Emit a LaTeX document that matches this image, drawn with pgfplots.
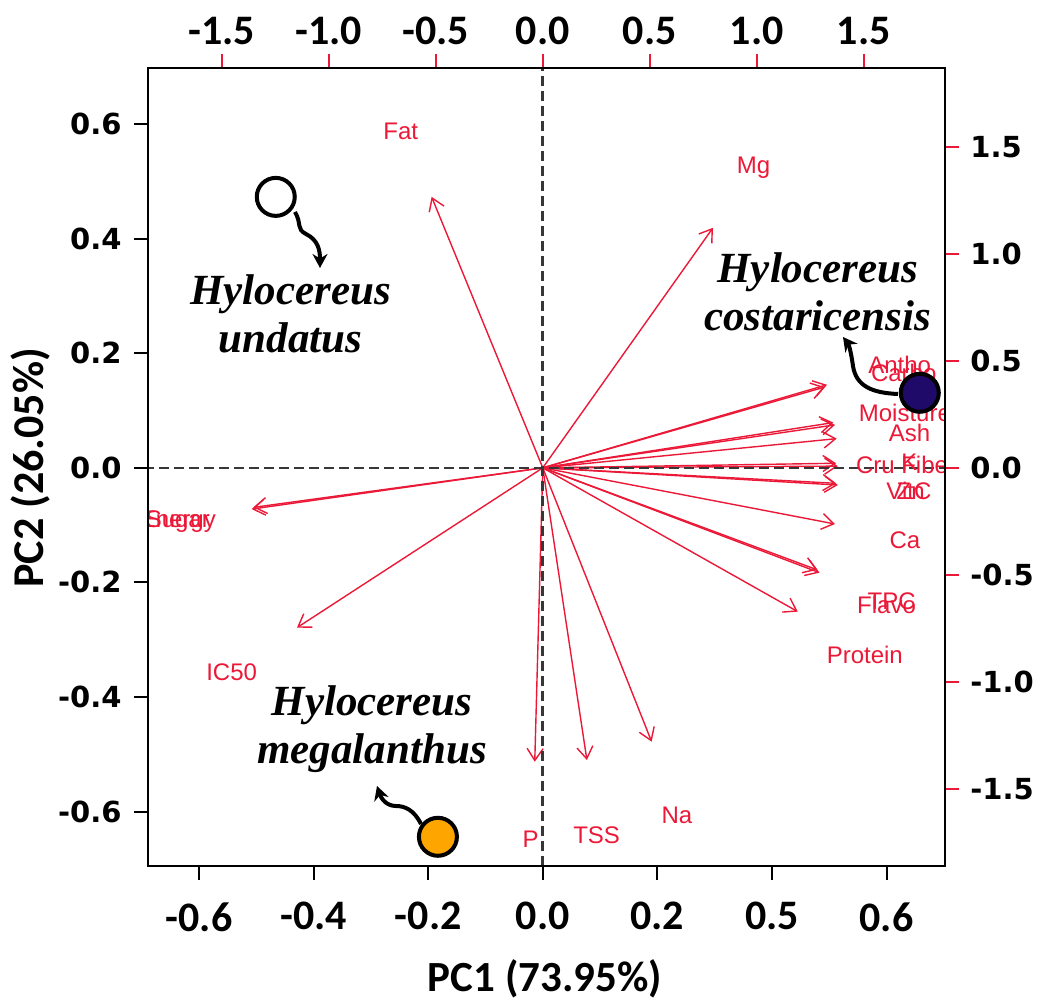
\documentclass[border=0pt]{standalone}
\usepackage{pgfplots}
\pgfplotsset{compat=1.18}
\usepackage{fontspec}
\usetikzlibrary{arrows.meta}
\newfontfamily\carlito{Carlito}
\newfontfamily\dejavu{DejaVu Sans}
\newfontfamily\lsans{Liberation Sans}
\newfontfamily\lserif{Liberation Serif}
\definecolor{vred}{RGB}{235,25,55}
\definecolor{navy}{RGB}{32,10,105}
\definecolor{dorange}{RGB}{255,165,0}
\definecolor{dgray}{RGB}{55,55,55}
\begin{document}
\begin{tikzpicture}
\begin{axis}[
  at={(0,0)}, anchor=south west,
  scale only axis, width=398.5pt, height=399pt,
  xmin=-0.689, xmax=0.702, ymin=-0.695, ymax=0.698,
  axis line style={line width=1.2pt, black},
  tick align=outside, major tick length=7pt,
  tick style={black, line width=1pt},
  xtick={-0.6,-0.4,-0.2,0,0.2,0.4,0.6},
  xticklabels={-0.6,-0.4,-0.2,0.0,0.2,0.5,0.6},
  ytick={-0.6,-0.4,-0.2,0,0.2,0.4,0.6},
  yticklabels={-0.6,-0.4,-0.2,0.0,0.2,0.4,0.6},
  xtick pos=left, ytick pos=left,
  xticklabel style={font=\carlito\bfseries\fontsize{21}{21}\selectfont, inner sep=0pt, anchor=north},
  xticklabel shift=11pt,
  yticklabel style={font=\dejavu\bfseries\fontsize{14.5}{14.5}\selectfont, inner sep=0pt, anchor=east},
  yticklabel shift=6pt,
  xlabel={PC1 (73.95\%)},
  ylabel={PC2 (26.05\%)},
  xlabel style={font=\carlito\bfseries\fontsize{21.5}{21.5}\selectfont, at={(axis description cs:0.498,-0.141)}, anchor=center},
  ylabel style={font=\carlito\bfseries\fontsize{22}{22}\selectfont, at={(axis description cs:-0.148,0.499)}, anchor=center},
]
% variable arrows
\addplot[mark=none, draw=vred, line width=0.7pt, -{Straight Barb[length=6pt,width=8pt]},
  quiver={u=\thisrow{u}, v=\thisrow{v}}] table[x=x, y=y] {
x y u v
0 0 -0.194 0.473
0 0 0.297 0.419
0 0 -0.508 -0.072
0 0 -0.505 -0.069
0 0 0.496 0.145
0 0 0.492 0.141
0 0 0.510 0.075
0 0 0.507 0.079
0 0 0.513 0.051
0 0 0.515 0.003
0 0 0.512 0.008
0 0 0.515 -0.030
0 0 0.512 -0.027
0 0 0.510 -0.098
0 0 0.483 -0.183
0 0 0.479 -0.178
0 0 0.445 -0.251
0 0 -0.014 -0.513
0 0 0.077 -0.510
0 0 0.190 -0.478
0 0 -0.429 -0.279
};
% reference lines
\addplot[mark=none, draw=dgray, line width=1.3pt, dash pattern=on 5pt off 2.5pt] coordinates {(-0.8,0) (0.8,0)};
\addplot[mark=none, draw=dgray, line width=1.3pt, dash pattern=on 5pt off 2.5pt] coordinates {(0,-0.8) (0,0.8)};
% variable labels
\begin{scope}[every node/.style={font=\lsans\fontsize{12}{12}\selectfont, text=vred, inner sep=0pt}]
\node at (axis cs:-0.248,0.588) {Fat};
\node at (axis cs:0.368,0.524) {Mg};
\node at (axis cs:-0.637,-0.094) {Energy};
\node at (axis cs:-0.637,-0.094) {Sugar};
\node at (axis cs:0.623,0.180) {Antho};
\node at (axis cs:0.630,0.166) {Carbo};
\node at (axis cs:0.632,0.096) {Moisture};
\node at (axis cs:0.640,0.061) {Ash};
\node at (axis cs:0.627,0.005) {Cru Fibe};
\node at (axis cs:0.640,0.010) {K};
\node at (axis cs:0.639,-0.040) {VitC};
\node at (axis cs:0.642,-0.040) {Zn};
\node at (axis cs:0.632,-0.127) {Ca};
\node at (axis cs:0.600,-0.239) {Flavo};
\node at (axis cs:0.609,-0.232) {TPC};
\node at (axis cs:0.562,-0.326) {Protein};
\node at (axis cs:-0.543,-0.356) {IC50};
\node at (axis cs:-0.021,-0.649) {P};
\node at (axis cs:0.094,-0.642) {TSS};
\node at (axis cs:0.234,-0.606) {Na};
\end{scope}
% species labels
\begin{scope}[every node/.style={font=\lserif\bfseries\itshape\fontsize{21.5}{24}\selectfont, align=center, inner sep=0pt}]
\node at (axis cs:-0.440,0.269) {Hylocereus\\undatus};
\node at (axis cs:0.480,0.307) {Hylocereus\\costaricensis};
\node at (axis cs:-0.298,-0.457) {Hylocereus\\megalanthus};
\end{scope}
% species circles
\addplot[only marks, mark=*, mark size=9.5pt, mark options={fill=white, draw=black, line width=2pt}] coordinates {(-0.466,0.473)};
\addplot[only marks, mark=*, mark size=9.5pt, mark options={fill=navy, draw=black, line width=2pt}] coordinates {(0.658,0.131)};
\addplot[only marks, mark=*, mark size=9.5pt, mark options={fill=dorange, draw=black, line width=2pt}] coordinates {(-0.183,-0.644)};
\end{axis}
\begin{axis}[
  at={(0,0)}, anchor=south west,
  scale only axis, width=398.5pt, height=399pt,
  xmin=-1.845, xmax=1.880, ymin=-1.861, ymax=1.869,
  axis line style={line width=1.2pt, black},
  tick align=outside, major tick length=7pt,
  tick style={vred, line width=1pt},
  xtick={-1.5,-1,-0.5,0,0.5,1,1.5},
  xticklabels={-1.5,-1.0,-0.5,0.0,0.5,1.0,1.5},
  ytick={-1.5,-1,-0.5,0,0.5,1,1.5},
  yticklabels={-1.5,-1.0,-0.5,0.0,0.5,1.0,1.5},
  xtick pos=right, ytick pos=right,
  xticklabel pos=right, yticklabel pos=right,
  xticklabel style={font=\carlito\bfseries\fontsize{21}{21}\selectfont, inner sep=0pt, anchor=south},
  xticklabel shift=4.5pt,
  yticklabel style={font=\dejavu\bfseries\fontsize{14.5}{14.5}\selectfont, inner sep=0pt, anchor=west},
  yticklabel shift=5.5pt,
]
\addplot[draw=none, mark=none] coordinates {(0,0)};
\end{axis}
% curved annotation arrows (pixel frame of reference)
\begin{scope}[x=0.5pt, y=-0.5pt, shift={(-74pt,433pt)}, line width=2pt, black]
\draw[-{Stealth[length=7pt,width=7.5pt]}] (295,212) .. controls (302,224) and (296,229) .. (306,234) .. controls (318,240) and (320,250) .. (320,268);
\draw[-{Stealth[length=7pt,width=7.5pt]}] (898,394) .. controls (872,393) and (856,386) .. (853,366) .. controls (851,352) and (849,345) .. (843,337);
\draw[-{Stealth[length=7pt,width=7.5pt]}] (421,824) .. controls (414,810) and (405,806) .. (396,806) .. controls (386,806) and (381,798) .. (377,786);
\end{scope}
\pgfresetboundingbox
\path[use as bounding box] (-74pt,-70.5pt) rectangle (445.5pt,433pt);
\end{tikzpicture}
\end{document}
